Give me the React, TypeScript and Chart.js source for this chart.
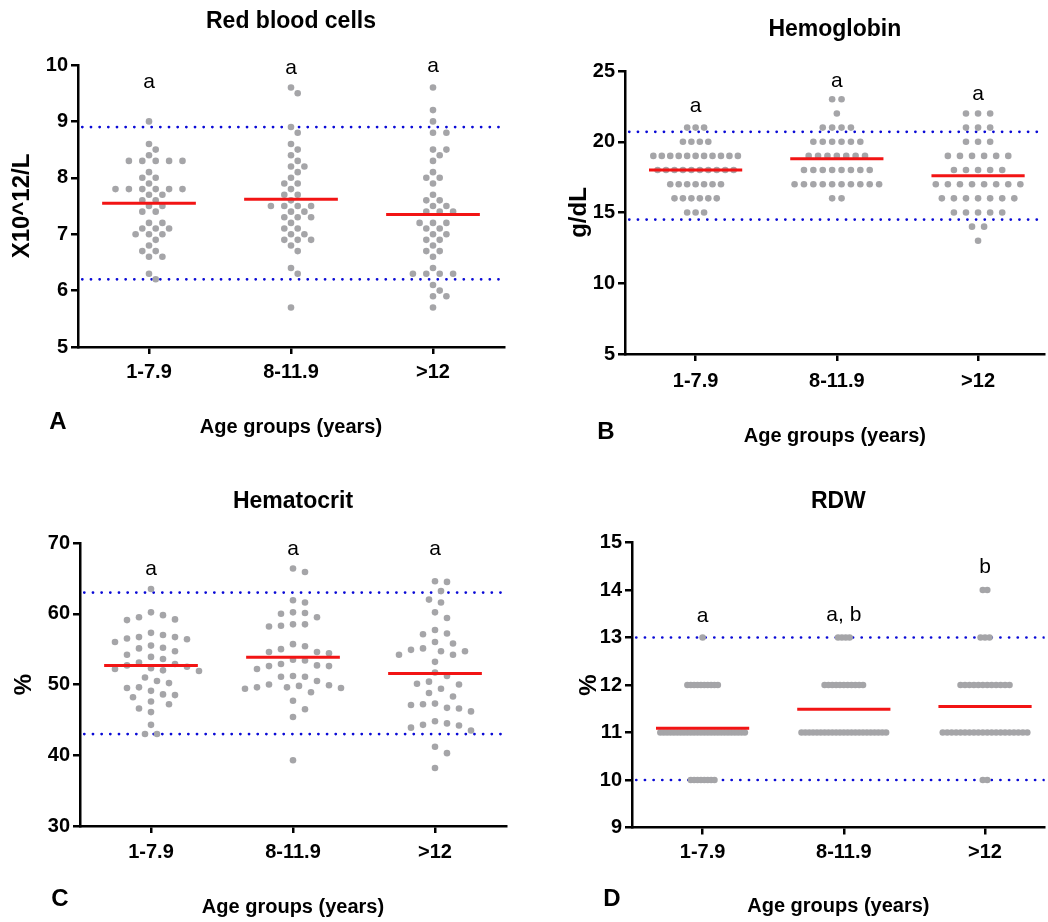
import React, { useEffect, useRef } from 'react';
import { Chart, registerables } from 'chart.js';

Chart.register(...registerables);

const FONT = "'Liberation Sans', Arial, Helvetica, sans-serif";
Chart.defaults.font.family = FONT;
Chart.defaults.color = '#000';

// ---------- data ----------
const groups = ['1-7.9', '8-11.9', '>12'];

// A: Red blood cells (x10^12/L)
const rbc1 = [9.0, 8.6, 8.5, 8.4, 8.3, 8.3, 8.3, 8.3, 8.3, 8.1, 8.0, 8.0, 7.9, 7.8, 7.8, 7.8, 7.8, 7.8, 7.8, 7.7, 7.7, 7.6, 7.6, 7.5, 7.5, 7.4, 7.4, 7.2, 7.2, 7.1, 7.1, 7.1, 7.0, 7.0, 7.0, 6.9, 6.8, 6.7, 6.7, 6.6, 6.6, 6.3, 6.2];
const rbc2 = [9.6, 9.5, 8.9, 8.8, 8.6, 8.5, 8.4, 8.3, 8.2, 8.2, 8.1, 8.0, 7.9, 7.9, 7.8, 7.7, 7.7, 7.6, 7.5, 7.5, 7.5, 7.5, 7.4, 7.4, 7.3, 7.3, 7.3, 7.2, 7.1, 7.1, 7.0, 7.0, 6.9, 6.9, 6.9, 6.8, 6.7, 6.4, 6.3, 5.7];
const rbc3 = [9.6, 9.2, 9.0, 8.8, 8.8, 8.5, 8.5, 8.4, 8.3, 8.1, 8.0, 8.0, 7.9, 7.7, 7.6, 7.6, 7.5, 7.5, 7.4, 7.4, 7.4, 7.2, 7.2, 7.2, 7.1, 7.1, 7.0, 7.0, 6.9, 6.9, 6.8, 6.7, 6.7, 6.6, 6.4, 6.3, 6.3, 6.3, 6.3, 6.1, 6.0, 5.9, 5.9, 5.7];
const rbcMean = [7.55, 7.62, 7.35];
const rbcRef = [8.9, 6.2];
const rbcLetters = ['a', 'a', 'a'];
const rbcLetterY = [9.7, 9.95, 9.98];

// B: Hemoglobin (g/dL) — counts per level
const hgbLevels = [23, 22, 21, 20, 19, 18, 17, 16, 15, 14, 13];
const hgbCount1 = [0, 0, 3, 4, 11, 10, 7, 6, 3, 0, 0];
const hgbCount2 = [2, 1, 4, 6, 7, 8, 10, 2, 0, 0, 0];
const hgbCount3 = [0, 3, 3, 3, 6, 5, 8, 7, 5, 2, 1];
const hgbMean = [18.0, 18.8, 17.6];
const hgbRef = [20.7, 14.5];
const hgbLetters = ['a', 'a', 'a'];
const hgbLetterY = [22.5, 24.25, 23.35];

// C: Hematocrit (%)
const hct1 = [63.5, 60.2, 59.8, 59.5, 59.2, 59.1, 57.3, 57.0, 56.7, 56.7, 56.5, 56.4, 56.0, 55.5, 55.2, 55.1, 54.7, 54.2, 53.9, 53.6, 53.1, 52.9, 52.7, 52.5, 52.3, 52.2, 52.0, 51.9, 51.0, 50.5, 50.2, 49.6, 49.5, 49.1, 48.6, 48.5, 48.2, 47.6, 47.2, 46.6, 46.1, 44.3, 43.0, 43.0];
const hct2 = [66.4, 65.9, 61.9, 61.6, 60.2, 60.1, 60.0, 59.5, 58.5, 58.5, 58.3, 58.2, 55.7, 55.4, 55.0, 54.6, 54.6, 54.4, 53.5, 53.4, 52.9, 52.7, 52.6, 52.6, 52.2, 51.2, 51.1, 51.1, 50.5, 50.0, 49.9, 49.8, 49.6, 49.6, 49.5, 49.4, 48.9, 47.7, 46.5, 45.4, 39.3];
const hct3 = [64.6, 64.5, 63.2, 62.0, 61.6, 60.2, 59.4, 57.7, 57.2, 57.1, 56.0, 55.8, 55.1, 54.9, 54.7, 54.7, 54.2, 54.2, 53.2, 51.7, 51.2, 50.4, 50.1, 50.0, 49.4, 48.8, 48.3, 47.3, 47.2, 47.1, 46.7, 46.6, 46.2, 44.8, 44.5, 44.3, 44.2, 43.9, 43.5, 41.2, 40.3, 38.2];
const hctMean = [52.7, 53.85, 51.55];
const hctRef = [63, 43];
const hctLetters = ['a', 'a', 'a'];
const hctLetterY = [66.3, 69.1, 69.1];

// D: RDW (%) — counts per level
const rdwLevels = [14, 13, 12, 11, 10];
const rdwCount1 = [0, 1, 10, 26, 8];
const rdwCount2 = [0, 4, 11, 23, 0];
const rdwCount3 = [2, 3, 12, 20, 2];
const rdwMean = [11.09, 11.49, 11.55];
const rdwRef = [13, 10];
const rdwLetters = ['a', 'a, b', 'b'];
const rdwLetterY = [13.44, 13.47, 14.49];

// ---------- layout helpers ----------
const CAT_PX = 142; // pixels per category step
const DOT_R = 3.3;

type Pt = { x: number; y: number };

function swarmPoints(values: number[], g: number, pxPerY: number, step: number, minDy: number): Pt[] {
  const placed: { c: number; y: number }[] = [];
  const diag = minDy * Math.sqrt(0.75);
  return values.map((v) => {
    const y = v * pxPerY;
    let col = 0;
    for (let k = 0; k < 500; k++) {
      const c = k === 0 ? 0 : k % 2 === 1 ? (k + 1) / 2 : -k / 2;
      let ok = true;
      for (const p of placed) {
        const dc = Math.abs(p.c - c);
        if (dc >= 2) continue;
        const need = dc === 0 ? minDy : diag;
        if (Math.abs(p.y - y) < need - 0.01) { ok = false; break; }
      }
      if (ok) { col = c; break; }
    }
    placed.push({ c: col, y });
    return { x: g + (col * step) / CAT_PX, y: v };
  });
}

function rowPoints(levels: number[], counts: number[], g: number, width: number, cap: number): Pt[] {
  const maxN = Math.max(...counts);
  const sp = maxN > 1 ? Math.min(cap, width / (maxN - 1)) : cap;
  const pts: Pt[] = [];
  levels.forEach((lv, i) => {
    const n = counts[i];
    for (let j = 0; j < n; j++) pts.push({ x: g + ((j - (n - 1) / 2) * sp) / CAT_PX, y: lv });
  });
  return pts;
}

type PanelCfg = {
  id: string;
  title: string;
  yTitle: string;
  letter: string;
  yMin: number; yMax: number; yStep: number;
  box: [number, number, number, number]; // ox, oy, w, h
  area: [number, number, number, number]; // L, T, R, B (page coords)
  titleY: number; yTitleX: number; xLabelY: number; xTitleY: number;
  letterPos: [number, number];
  build: (pxPerY: number) => Pt[];
  means: number[];
  refs: number[];
  labels: string[];
  labelY: number[];
};

const panels: PanelCfg[] = [
  {
    id: 'A', title: 'Red blood cells', yTitle: 'X10^12/L', letter: 'A',
    yMin: 5, yMax: 10, yStep: 1,
    box: [0, 0, 524, 470], area: [78, 65, 504, 347],
    titleY: 22, yTitleX: 22, xLabelY: 372, xTitleY: 427, letterPos: [58, 421],
    build: (ppy) => [rbc1, rbc2, rbc3].flatMap((vals, g) => swarmPoints(vals, g, ppy, 6.7, 6.4)),
    means: rbcMean, refs: rbcRef, labels: rbcLetters, labelY: rbcLetterY,
  },
  {
    id: 'B', title: 'Hemoglobin', yTitle: 'g/dL', letter: 'B',
    yMin: 5, yMax: 25, yStep: 5,
    box: [524, 0, 524, 470], area: [625, 71, 1047, 354],
    titleY: 30, yTitleX: 579, xLabelY: 381, xTitleY: 436, letterPos: [606, 431],
    build: () => [hgbCount1, hgbCount2, hgbCount3].flatMap((c, g) => rowPoints(hgbLevels, c, g, 85, 14)),
    means: hgbMean, refs: hgbRef, labels: hgbLetters, labelY: hgbLetterY,
  },
  {
    id: 'C', title: 'Hematocrit', yTitle: '%', letter: 'C',
    yMin: 30, yMax: 70, yStep: 10,
    box: [0, 470, 524, 452], area: [80, 543, 506, 826],
    titleY: 502, yTitleX: 24, xLabelY: 852, xTitleY: 907, letterPos: [60, 898],
    build: (ppy) => [hct1, hct2, hct3].flatMap((vals, g) => swarmPoints(vals, g, ppy, 6.0, 10)),
    means: hctMean, refs: hctRef, labels: hctLetters, labelY: hctLetterY,
  },
  {
    id: 'D', title: 'RDW', yTitle: '%', letter: 'D',
    yMin: 9, yMax: 15, yStep: 1,
    box: [524, 470, 524, 452], area: [632, 542.5, 1047, 827.5],
    titleY: 502, yTitleX: 589, xLabelY: 852, xTitleY: 906, letterPos: [612, 898],
    build: () => [rdwCount1, rdwCount2, rdwCount3].flatMap((c, g) => rowPoints(rdwLevels, c, g, 85, 14)),
    means: rdwMean, refs: rdwRef, labels: rdwLetters, labelY: rdwLetterY,
  },
];

const TITLE_SIZE = 23;
const YTITLE_SIZE = 24;
const TICK_SIZE = 20;
const XTITLE_SIZE = 20;
const TICK_LEN = 7;

const groupLetterPlugin = {
  id: 'groupLetters',
  afterDatasetsDraw(chart: any, _args: any, opts: any) {
    const { ctx } = chart;
    const xs = chart.scales.x;
    const ys = chart.scales.y;
    ctx.save();
    ctx.font = `21px ${FONT}`;
    ctx.fillStyle = '#000';
    ctx.textAlign = 'center';
    ctx.textBaseline = 'middle';
    (opts.labels as string[]).forEach((t, i) => {
      ctx.fillText(t, xs.getPixelForValue(i), ys.getPixelForValue(opts.ys[i]));
    });
    ctx.restore();
  },
};

function Panel({ cfg }: { cfg: PanelCfg }) {
  const ref = useRef<HTMLCanvasElement>(null);
  useEffect(() => {
    if (!ref.current) return;
    const [ox, oy, w, h] = cfg.box;
    const [L, T, R, B] = cfg.area;
    const xMin = -0.5;
    const xMax = (R - L) / CAT_PX - 0.5;
    const pxPerY = (B - T) / (cfg.yMax - cfg.yMin);
    const points = cfg.build(pxPerY);

    const tLH = TITLE_SIZE * 1.2;
    const tTop = cfg.titleY - oy - tLH / 2;
    const tBottom = T - oy - tTop - tLH;
    const yLH = YTITLE_SIZE * 1.2;
    const xTickLH = TICK_SIZE * 1.2;
    const xTitleLH = XTITLE_SIZE * 1.2;

    const datasets: any[] = [];
    cfg.means.forEach((m, g) => {
      datasets.push({
        type: 'line', data: [{ x: g - 0.33, y: m }, { x: g + 0.33, y: m }],
        borderColor: '#f21414', borderWidth: 3, pointRadius: 0, order: 0, clip: false,
      });
    });
    datasets.push({
      type: 'scatter', data: points, backgroundColor: '#a5a5a8', borderWidth: 0,
      pointRadius: DOT_R, pointHoverRadius: DOT_R, order: 1, clip: false,
    });
    cfg.refs.forEach((r) => {
      datasets.push({
        type: 'line', data: [{ x: xMin + 0.03, y: r }, { x: xMax, y: r }],
        borderColor: '#0a0ad6', borderWidth: 2.7, borderDash: [0.1, 8.57], borderCapStyle: 'round',
        pointRadius: 0, order: 2,
      });
    });

    const chart = new Chart(ref.current, {
      type: 'scatter',
      data: { datasets },
      plugins: [groupLetterPlugin],
      options: {
        responsive: false,
        animation: false,
        devicePixelRatio: 1,
        events: [],
        layout: { padding: { left: 0, right: ox + w - R, top: 0, bottom: 0 } },
        plugins: {
          legend: { display: false },
          tooltip: { enabled: false },
          title: {
            display: true, text: cfg.title, fullSize: false, color: '#000',
            font: { size: TITLE_SIZE, weight: 'bold', family: FONT },
            padding: { top: tTop, bottom: tBottom },
          },
          groupLetters: { labels: cfg.labels, ys: cfg.labelY },
        } as any,
        scales: {
          x: {
            type: 'linear', min: xMin, max: xMax,
            afterBuildTicks: (axis: any) => { axis.ticks = groups.map((_, i) => ({ value: i })); },
            afterFit: (axis: any) => { axis.height = oy + h - B; },
            ticks: {
              callback: (v: any) => groups[v as number] ?? '',
              color: '#000', font: { size: TICK_SIZE, weight: 'bold', family: FONT },
              padding: cfg.xLabelY - B - TICK_LEN - xTickLH / 2,
              maxRotation: 0, autoSkip: false,
            },
            grid: { drawOnChartArea: false, drawTicks: true, tickLength: TICK_LEN, color: '#000', lineWidth: 2.5 },
            border: { display: true, color: '#000', width: 2.5 },
            title: {
              display: true, text: 'Age groups (years)', color: '#000',
              font: { size: XTITLE_SIZE, weight: 'bold', family: FONT },
              padding: { top: 0, bottom: oy + h - cfg.xTitleY - xTitleLH / 2 },
            },
          },
          y: {
            type: 'linear', min: cfg.yMin, max: cfg.yMax,
            afterFit: (axis: any) => { axis.width = L - ox; },
            ticks: {
              stepSize: cfg.yStep, color: '#000', padding: 3,
              font: { size: TICK_SIZE, weight: 'bold', family: FONT },
            },
            grid: { drawOnChartArea: false, drawTicks: true, tickLength: TICK_LEN, color: '#000', lineWidth: 2.5 },
            border: { display: true, color: '#000', width: 2.5 },
            title: {
              display: true, text: cfg.yTitle, color: '#000',
              font: { size: YTITLE_SIZE, weight: 'bold', family: FONT },
              padding: { top: cfg.yTitleX - ox - yLH / 2, bottom: 0 },
            },
          },
        },
      } as any,
    });
    return () => chart.destroy();
  }, [cfg]);

  const [ox, oy, w, h] = cfg.box;
  return (
    <canvas
      ref={ref}
      width={w}
      height={h}
      style={{ position: 'absolute', left: ox, top: oy, width: w, height: h }}
    />
  );
}

export default function App() {
  return (
    <div style={{ position: 'absolute', left: 0, top: 0, width: 1048, height: 922, background: '#fff', overflow: 'hidden' }}>
      {panels.map((p) => (
        <React.Fragment key={p.id}>
          <Panel cfg={p} />
          <div
            style={{
              position: 'absolute', left: p.letterPos[0], top: p.letterPos[1],
              transform: 'translate(-50%, -50%)', font: `bold 24px ${FONT}`, color: '#000', lineHeight: 1,
            }}
          >
            {p.letter}
          </div>
        </React.Fragment>
      ))}
    </div>
  );
}
